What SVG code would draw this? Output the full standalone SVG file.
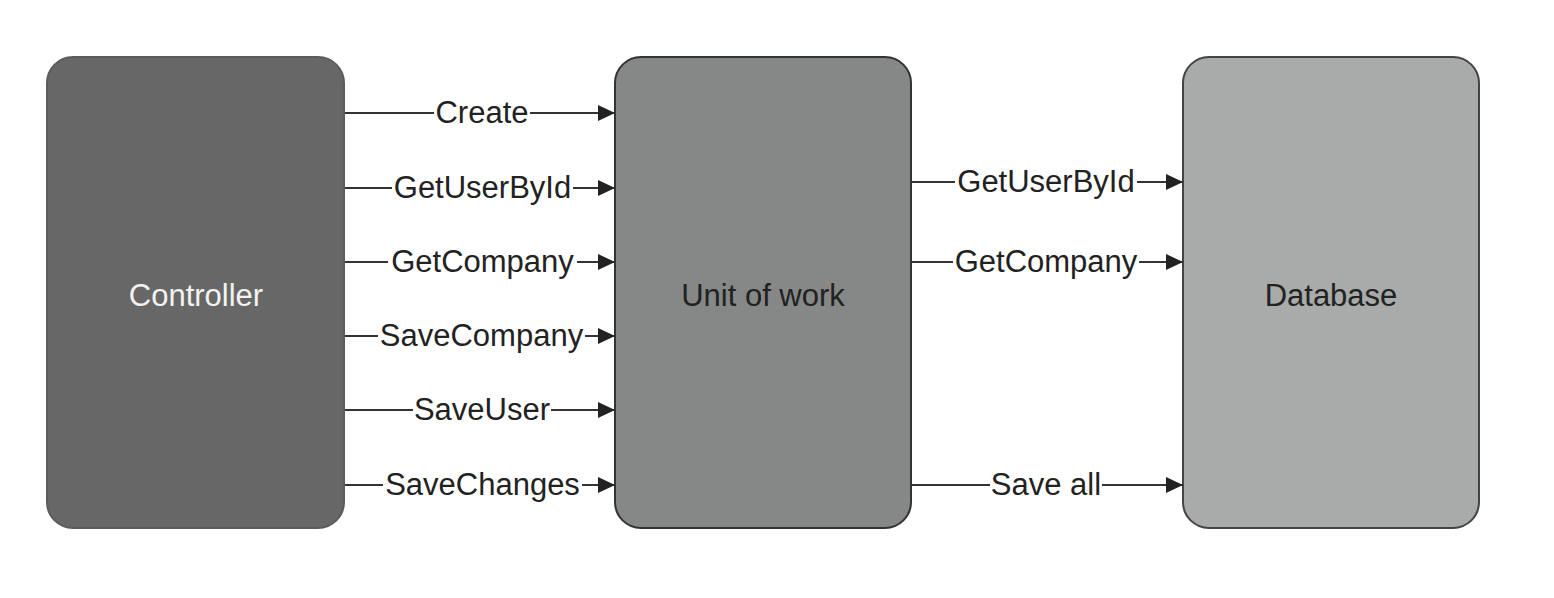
<svg xmlns="http://www.w3.org/2000/svg" width="1554" height="598" viewBox="0 0 1554 598">
<style>
.box{stroke-width:2}
.lbl{font-family:"Liberation Sans",Arial,sans-serif;font-size:31px;fill:#222;text-anchor:middle}
.title{font-family:"Liberation Sans",Arial,sans-serif;font-size:31px;text-anchor:middle}
.ln{stroke:#333;stroke-width:2;fill:none;marker-end:url(#ah)}
.bg{fill:#fff}
</style>
<defs>
<marker id="ah" markerUnits="userSpaceOnUse" markerWidth="18" markerHeight="18" viewBox="0 0 18 18" refX="17" refY="9" orient="auto">
<path d="M0,1 L17,9 L0,17 Z" fill="#222"/>
</marker>
</defs>
<rect width="1554" height="598" fill="#fff"/>
<g id="controller">
<rect class="box" x="47" y="57" width="297" height="471" rx="26" fill="#676767" stroke="#5c5c5c"/>
<text class="title" x="196" y="306" fill="#f2f2f2">Controller</text>
</g>
<g id="unitofwork">
<rect class="box" x="615" y="57" width="296" height="471" rx="26" fill="#868787" stroke="#333"/>
<text class="title" x="763" y="306" fill="#222">Unit of work</text>
</g>
<g id="database">
<rect class="box" x="1183" y="57" width="296" height="471" rx="26" fill="#a9aaaa" stroke="#444"/>
<text class="title" x="1331" y="306" fill="#222">Database</text>
</g>
<g id="connectors">
<line class="ln" x1="345" y1="113" x2="615" y2="113"/>
<line class="ln" x1="345" y1="188" x2="615" y2="188"/>
<line class="ln" x1="345" y1="262" x2="615" y2="262"/>
<line class="ln" x1="345" y1="336" x2="615" y2="336"/>
<line class="ln" x1="345" y1="410" x2="615" y2="410"/>
<line class="ln" x1="345" y1="485" x2="615" y2="485"/>
<line class="ln" x1="912" y1="182" x2="1183" y2="182"/>
<line class="ln" x1="912" y1="262" x2="1183" y2="262"/>
<line class="ln" x1="912" y1="485" x2="1183" y2="485"/>
<g id="labels">
<rect class="bg" x="434" y="98" width="96" height="30"/>
<text class="lbl" x="482" y="123">Create</text>
<rect class="bg" x="392" y="173" width="181" height="30"/>
<text class="lbl" x="482.5" y="198">GetUserById</text>
<rect class="bg" x="388" y="247" width="189" height="30"/>
<text class="lbl" x="482.5" y="272">GetCompany</text>
<rect class="bg" x="378" y="321" width="207" height="30"/>
<text class="lbl" x="481.5" y="346">SaveCompany</text>
<rect class="bg" x="413" y="395" width="138" height="30"/>
<text class="lbl" x="482" y="420">SaveUser</text>
<rect class="bg" x="383" y="470" width="199" height="30"/>
<text class="lbl" x="482.5" y="495">SaveChanges</text>
<rect class="bg" x="955" y="167" width="182" height="30"/>
<text class="lbl" x="1046" y="192">GetUserById</text>
<rect class="bg" x="953" y="247" width="186" height="30"/>
<text class="lbl" x="1046" y="272">GetCompany</text>
<rect class="bg" x="990" y="470" width="112" height="30"/>
<text class="lbl" x="1046" y="495">Save all</text>
</g>
</g>
</svg>
